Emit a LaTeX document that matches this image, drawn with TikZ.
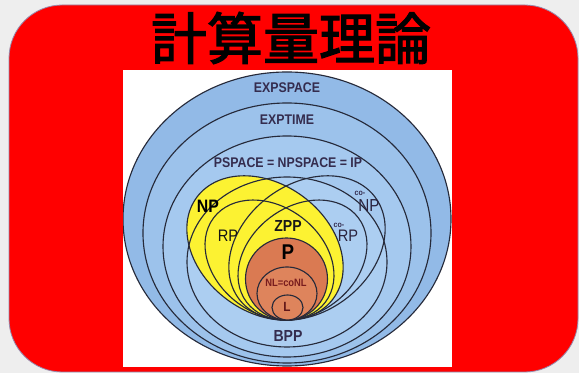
\documentclass[tikz,border=0pt]{standalone}
\usepackage{fontspec}
\setmainfont{Liberation Sans}
\newfontfamily\cjk[FakeBold=2.2]{Noto Sans CJK JP}
\newfontfamily\narrow[FakeStretch=0.88]{Liberation Sans}
\definecolor{bggray}{RGB}{238,238,238}
\definecolor{framered}{RGB}{255,0,0}
\definecolor{ringA}{RGB}{146,186,231}
\definecolor{ringB}{RGB}{156,194,235}
\definecolor{ringC}{RGB}{165,201,239}
\definecolor{ringD}{RGB}{172,206,241}
\definecolor{npyellow}{RGB}{252,242,50}
\definecolor{porange}{RGB}{218,122,82}
\definecolor{nlorange}{RGB}{222,132,92}
\definecolor{edge}{RGB}{38,42,58}
\definecolor{navytext}{RGB}{52,44,78}
\definecolor{nltext}{RGB}{120,28,30}
\tikzset{
  setline/.style={draw=edge, line width=0.85pt},
  lbl/.style={inner sep=0pt, font=\narrow\bfseries},
}
\begin{document}
\begin{tikzpicture}[x=0.75pt,y=-0.75pt]
\useasboundingbox (0,0) rectangle (579,373);
\fill[bggray] (0,0) rectangle (579,373);
\draw[fill=framered, draw={rgb,255:red,150;green,140;blue,175}, line width=0.6pt, rounded corners=40pt] (9,5) rectangle (578,372);
\node[font=\cjk\fontsize{42}{42}\selectfont, inner sep=0pt] (title) at (291,38) {計算量理論};
\fill[white] (123,70) rectangle (452,367);
\begin{scope}
\clip (123,70) rectangle (452,367);
% fills
\fill[ringA] (287,219) ellipse [x radius=164, y radius=147];
\fill[ringB] (287,233) ellipse [x radius=144, y radius=130];
\fill[ringC] (287,246.5) ellipse [x radius=124, y radius=110.5];
\fill[ringD] (287,262) ellipse [x radius=100, y radius=85];
\fill[npyellow, rotate around={-36.7:(265,248)}] (265,248) ellipse [x radius=85, y radius=64];
\begin{scope}
\clip[rotate around={-37:(269.5,260)}] (269.5,260) ellipse [x radius=70, y radius=53.4];
\fill[npyellow, rotate around={37:(302.5,260)}] (302.5,260) ellipse [x radius=70, y radius=53.4];
\end{scope}
\fill[porange] (286.5,279) circle [radius=41];
% outlines
\draw[setline] (287,219) ellipse [x radius=164, y radius=147];
\draw[setline] (287,233) ellipse [x radius=144, y radius=130];
\draw[setline] (287,246.5) ellipse [x radius=124, y radius=110.5];
\draw[setline] (287,262) ellipse [x radius=100, y radius=85];
\draw[setline, rotate around={36.7:(307,248)}] (307,248) ellipse [x radius=85, y radius=64];
\draw[setline, rotate around={-36.7:(265,248)}] (265,248) ellipse [x radius=85, y radius=64];
\draw[setline, rotate around={-37:(269.5,260)}] (269.5,260) ellipse [x radius=70, y radius=53.4];
\draw[setline, rotate around={37:(302.5,260)}] (302.5,260) ellipse [x radius=70, y radius=53.4];
\draw[setline] (286.5,279) circle [radius=41];
\draw[setline, fill=nlorange] (287,293.5) ellipse [x radius=30, y radius=26.5];
\draw[setline, fill=nlorange] (287.5,307.5) ellipse [x radius=15.5, y radius=12.5];
\end{scope}
% labels
\node[lbl, text=navytext, font=\narrow\bfseries\fontsize{10.5}{10.5}\selectfont] (expspace) at (287,88) {EXPSPACE};
\node[lbl, text=navytext, font=\narrow\bfseries\fontsize{10.5}{10.5}\selectfont] (exptime) at (287,120) {EXPTIME};
\node[lbl, text=navytext, font=\narrow\bfseries\fontsize{10.5}{10.5}\selectfont] (pspace) at (288,163) {PSPACE = NPSPACE = IP};
\node[lbl, text=black, font=\narrow\bfseries\fontsize{13.5}{13.5}\selectfont] (np) at (208,206) {NP};
\node[lbl, text=black!92, font=\narrow\fontsize{12.5}{12.5}\selectfont] (rp) at (228,236) {RP};
\node[lbl, text=black!90, font=\narrow\bfseries\fontsize{12}{12}\selectfont] (zpp) at (288,226) {ZPP};
\node[lbl, text=black, font=\narrow\bfseries\fontsize{16}{16}\selectfont] (p) at (288,252) {P};
\node[lbl, text=nltext, font=\narrow\bfseries\fontsize{8}{8}\selectfont] (nl) at (286,283) {NL=coNL};
\node[lbl, text=nltext!80!black, font=\narrow\bfseries\fontsize{10}{10}\selectfont] (l) at (287,307) {L};
\node[lbl, text=navytext, font=\narrow\bfseries\fontsize{12}{12}\selectfont] (bpp) at (288,336) {BPP};
\node[lbl, text=navytext, font=\narrow\bfseries\fontsize{6}{6}\selectfont] (conp1) at (360,193) {co-};
\node[lbl, text=navytext!80!black, font=\narrow\fontsize{13}{13}\selectfont] (conp2) at (369,206) {NP};
\node[lbl, text=navytext, font=\narrow\bfseries\fontsize{6}{6}\selectfont] (corp1) at (339,225) {co-};
\node[lbl, text=navytext!80!black, font=\narrow\fontsize{12.5}{12.5}\selectfont] (corp2) at (348,236) {RP};
\end{tikzpicture}
\end{document}
